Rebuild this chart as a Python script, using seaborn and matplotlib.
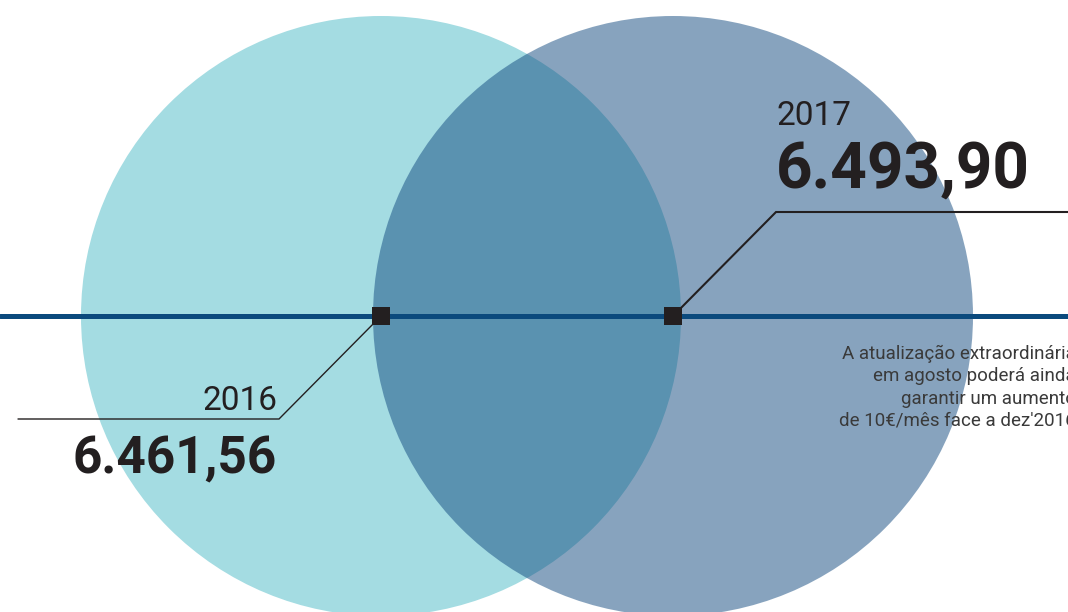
import numpy as np
import pandas as pd
import matplotlib.pyplot as plt
from matplotlib.patches import Circle
import seaborn as sns

# data
years = ['2016', '2017']
values = [6461.56, 6493.90]
note_lines = ['A atualização extraordinária',
              'em agosto poderá ainda',
              'garantir um aumento',
              "de 10€/mês face a dez'2016"]

def pt_format(v):
    s = f"{v:,.2f}"
    return s.replace(',', '#').replace('.', ',').replace('#', '.')

# layout (pixels, y grows down)
W, H = 1068, 612
line_y = 316
centers = [381, 673]
radius = 300

sns.set_theme(style='white')
plt.rcParams['font.family'] = ['Roboto', 'DejaVu Sans']

fig = plt.figure(figsize=(W / 100, H / 100), dpi=100)
ax = fig.add_axes([0, 0, 1, 1])
ax.set_xlim(0, W)
ax.set_ylim(H, 0)
ax.set_aspect('equal')
ax.axis('off')

# circles
ax.add_patch(Circle((centers[0], line_y), radius, color='#a4dce2', lw=0, zorder=1))
ax.add_patch(Circle((centers[1], line_y), radius, color='#11497f', alpha=0.5, lw=0, zorder=2))

# main horizontal line
ax.axhline(line_y, color='#0b4a7d', lw=3.6, zorder=3)

# leader lines
ax.plot([centers[0], centers[0] - 102, 18], [line_y, line_y + 103, line_y + 103],
        color='#231f20', lw=1.0, zorder=4, solid_joinstyle='miter')
ax.plot([centers[1], centers[1] + 103, W + 5], [line_y, line_y - 104, line_y - 104],
        color='#231f20', lw=1.5, zorder=4, solid_joinstyle='miter')

# markers at the circle centres
df = pd.DataFrame({'year': years, 'value': values, 'x': centers, 'y': [line_y] * 2})
sns.scatterplot(data=df, x='x', y='y', marker='s', s=165, color='#231f20',
                edgecolor='none', ax=ax, zorder=5, legend=False)
ax.set_xlabel('')
ax.set_ylabel('')

# labels
ax.text(277, 410, years[0], ha='right', va='baseline', fontsize=24,
        color='#231f20', fontweight='normal')
ax.text(277, 473, pt_format(values[0]), ha='right', va='baseline', fontsize=37,
        color='#231f20', fontweight='bold')
ax.text(777, 125, years[1], ha='left', va='baseline', fontsize=24,
        color='#231f20', fontweight='normal')
ax.text(776, 188, pt_format(values[1]), ha='left', va='baseline', fontsize=46,
        color='#231f20', fontweight='bold')

ax.text(1076, 345, '\n'.join(note_lines), ha='right', va='top',
        multialignment='right', fontsize=13.5, color='#3a3a3a',
        fontweight='normal', linespacing=1.3)

fig.savefig('out.png', dpi=100)
